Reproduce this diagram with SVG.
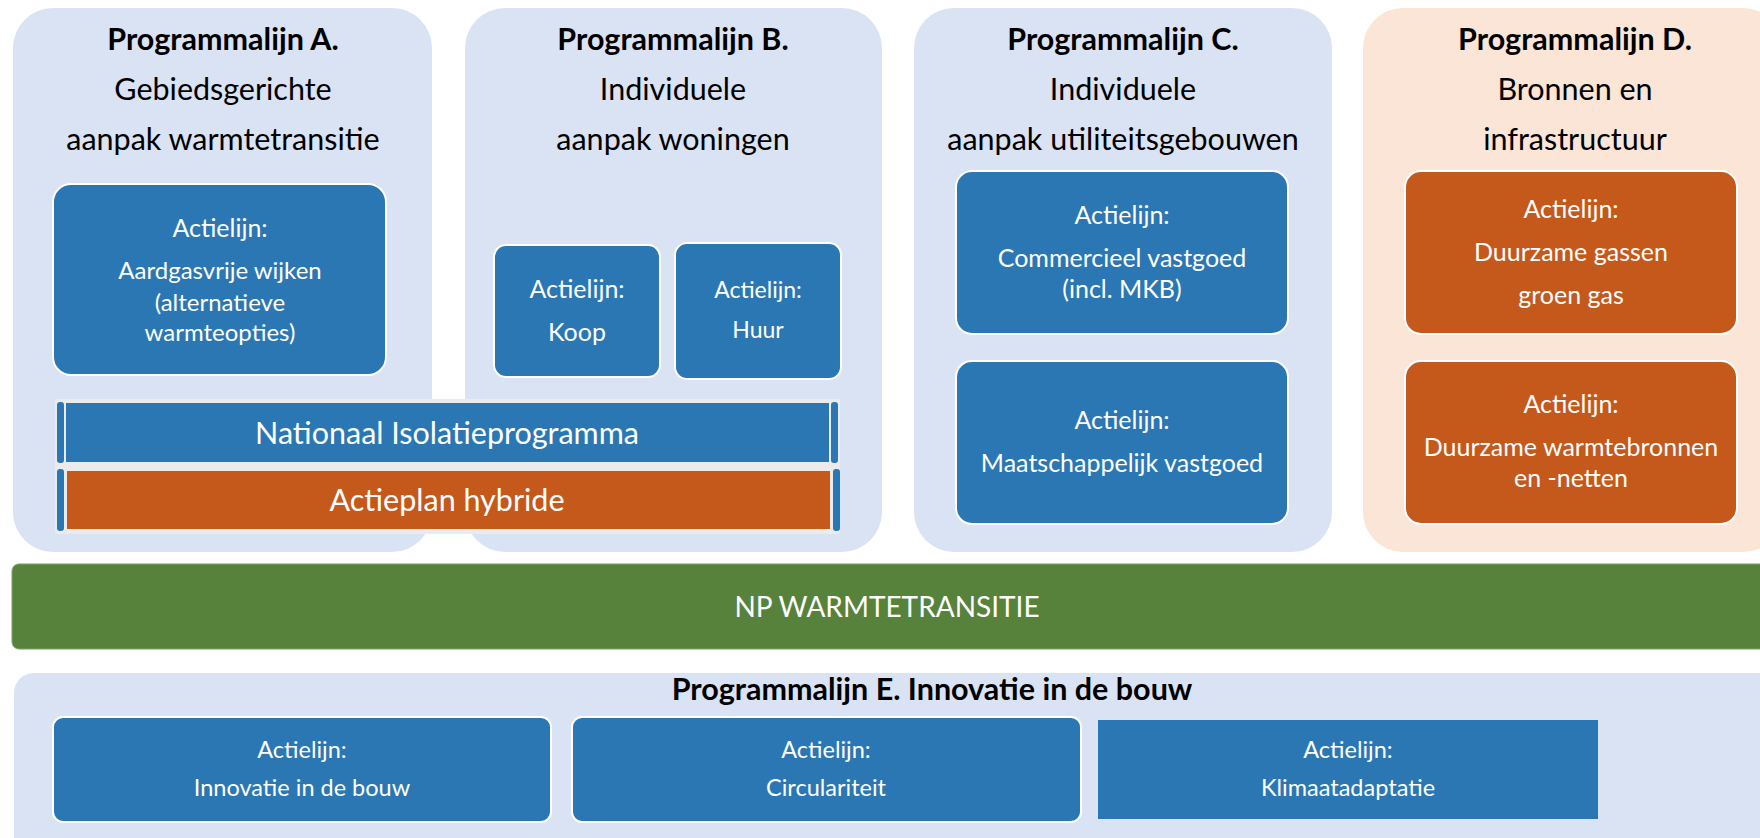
<svg xmlns="http://www.w3.org/2000/svg" width="1760" height="838" viewBox="0 0 1760 838">
<style>
.panel{fill:#DAE3F3}
.peach{fill:#FBE5D6}
.blue{fill:#2A77B4;stroke:#FFFFFF;stroke-width:2}
.orange{fill:#C5581B;stroke:#FFFFFF;stroke-width:2}
.t{font-family:Lato,"Open Sans",sans-serif;text-anchor:middle}
.h{font-size:30.5px;font-weight:bold;fill:#000}
.s{font-size:30.5px;fill:#000}
.w{font-size:25px;fill:#FFF}
.wa{font-size:24px;fill:#FFF}
.wh{font-size:23px;fill:#FFF}
.wb{font-size:30.5px;fill:#FFF}
.wn{font-size:28px;fill:#FFF}
.we{font-size:23.5px;fill:#FFF}
</style>
<rect width="1760" height="838" fill="#FFFFFF"/>

<g id="panelA">
<rect class="panel" x="13" y="8" width="419" height="544" rx="40"/>
<text class="t h" x="223" y="50">Programmalijn A.</text>
<text class="t s" x="223" y="100">Gebiedsgerichte</text>
<text class="t s" x="223" y="150">aanpak warmtetransitie</text>
</g>
<g id="panelB">
<rect class="panel" x="465" y="8" width="417" height="544" rx="40"/>
<text class="t h" x="673" y="50">Programmalijn B.</text>
<text class="t s" x="673" y="100">Individuele</text>
<text class="t s" x="673" y="150">aanpak woningen</text>
</g>
<g id="panelC">
<rect class="panel" x="914" y="8" width="418" height="544" rx="40"/>
<text class="t h" x="1123" y="50">Programmalijn C.</text>
<text class="t s" x="1123" y="100">Individuele</text>
<text class="t s" x="1123" y="150">aanpak utiliteitsgebouwen</text>
</g>
<g id="panelD">
<rect class="peach" x="1363" y="8" width="420" height="544" rx="40"/>
<text class="t h" x="1575" y="50">Programmalijn D.</text>
<text class="t s" x="1575" y="100">Bronnen en</text>
<text class="t s" x="1575" y="150">infrastructuur</text>
</g>

<g id="boxA">
<rect class="blue" x="53" y="184" width="333" height="191" rx="18"/>
<text class="t w" x="220" y="237">Actielijn:</text>
<text class="t wa" x="220" y="279">Aardgasvrije wijken</text>
<text class="t wa" x="220" y="311">(alternatieve</text>
<text class="t wa" x="220" y="341">warmteopties)</text>
</g>
<g id="boxKoop">
<rect class="blue" x="494" y="245" width="166" height="132" rx="12"/>
<text class="t w" x="577" y="298">Actielijn:</text>
<text class="t w" x="577" y="341">Koop</text>
</g>
<g id="boxHuur">
<rect class="blue" x="675" y="243" width="166" height="136" rx="12"/>
<text class="t wh" x="758" y="298">Actielijn:</text>
<text class="t wh" x="758" y="338">Huur</text>
</g>

<g id="bars">
<rect x="55" y="399" width="785" height="135" fill="#EBEBEB"/>
<rect x="57" y="402" width="7" height="61" rx="3" fill="#2A77B4"/>
<rect x="831" y="402" width="7" height="61" rx="3" fill="#2A77B4"/>
<rect x="57" y="469" width="7" height="62" rx="3" fill="#2A77B4"/>
<rect x="833" y="469" width="7" height="62" rx="3" fill="#2A77B4"/>
</g>
<g id="nip">
<rect x="66" y="403" width="763" height="59" fill="#2A77B4"/>
<text class="t wb" x="447" y="444">Nationaal Isolatieprogramma</text>
</g>
<g id="hybride">
<rect x="67" y="471" width="763" height="58" fill="#C5581B"/>
<text class="t wb" x="447" y="511">Actieplan hybride</text>
</g>

<g id="boxC1">
<rect class="blue" x="956" y="171" width="332" height="163" rx="16"/>
<text class="t w" x="1122" y="224">Actielijn:</text>
<text class="t w" x="1122" y="267">Commercieel vastgoed</text>
<text class="t w" x="1122" y="298">(incl. MKB)</text>
</g>
<g id="boxC2">
<rect class="blue" x="956" y="361" width="332" height="163" rx="16"/>
<text class="t w" x="1122" y="429">Actielijn:</text>
<text class="t w" x="1122" y="472">Maatschappelijk vastgoed</text>
</g>
<g id="boxD1">
<rect class="orange" x="1405" y="171" width="332" height="163" rx="16"/>
<text class="t w" x="1571" y="218">Actielijn:</text>
<text class="t w" x="1571" y="261">Duurzame gassen</text>
<text class="t w" x="1571" y="304">groen gas</text>
</g>
<g id="boxD2">
<rect class="orange" x="1405" y="361" width="332" height="163" rx="16"/>
<text class="t w" x="1571" y="413">Actielijn:</text>
<text class="t w" x="1571" y="456">Duurzame warmtebronnen</text>
<text class="t w" x="1571" y="487">en -netten</text>
</g>

<g id="np">
<rect x="12" y="564" width="1760" height="85" rx="7" fill="#57823B" stroke="#7E9E6A" stroke-width="1"/>
<text class="t wn" x="887" y="617">NP WARMTETRANSITIE</text>
</g>

<g id="panelE">
<rect class="panel" x="14" y="673" width="1770" height="200" rx="20"/>
<text class="t h" x="932" y="700">Programmalijn E. Innovatie in de bouw</text>
</g>
<g id="boxE1">
<rect class="blue" x="53" y="717" width="498" height="105" rx="10"/>
<text class="t we" x="302" y="758">Actielijn:</text>
<text class="t we" x="302" y="796">Innovatie in de bouw</text>
</g>
<g id="boxE2">
<rect class="blue" x="572" y="717" width="509" height="105" rx="10"/>
<text class="t we" x="826" y="758">Actielijn:</text>
<text class="t we" x="826" y="796">Circulariteit</text>
</g>
<g id="boxE3">
<rect x="1098" y="720" width="500" height="99" fill="#2A77B4"/>
<text class="t we" x="1348" y="758">Actielijn:</text>
<text class="t we" x="1348" y="796">Klimaatadaptatie</text>
</g>
</svg>
